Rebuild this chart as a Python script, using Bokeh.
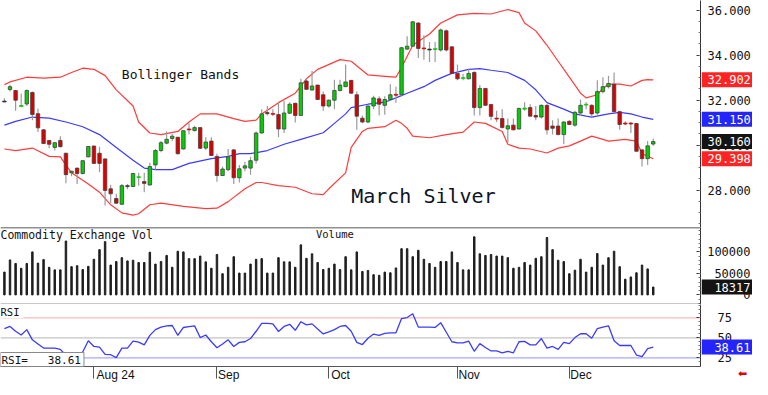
import pandas as pd
from bokeh.plotting import figure
from bokeh.layouts import column, row
from bokeh.models import (Range1d, FixedTicker, Label, Span, ColumnDataSource)
from bokeh.core.properties import value
from bokeh.embed import file_html
from bokeh.resources import INLINE

# ---------------- data ----------------
holidays = ["2024-09-02", "2024-11-28"]
dates = [d for d in pd.bdate_range("2024-07-10", "2024-12-23")
         if d.strftime("%Y-%m-%d") not in holidays]
idx = list(range(len(dates)))

opens = [31.96, 32.47, 32.43, 31.72, 31.83, 32.34, 31.40, 30.68, 30.21, 29.90,
         30.21, 29.64, 28.77, 28.98, 28.74, 29.48, 29.96, 29.64, 29.39, 28.06,
         27.63, 27.37, 28.20, 28.16, 28.56, 28.38, 28.23, 29.12, 29.76, 30.09,
         30.30, 30.35, 29.83, 30.72, 30.65, 30.78, 29.87, 30.18, 29.50, 28.65,
         28.91, 29.79, 28.55, 28.98, 28.98, 29.33, 30.54, 31.45, 31.41, 31.36,
         30.72, 31.42, 31.86, 31.32, 32.85, 32.45, 32.67, 32.24, 31.74, 32.00,
         32.43, 32.60, 32.88, 32.24, 31.20, 31.03, 31.74, 32.06, 31.77, 32.03,
         32.26, 32.24, 34.27, 34.40, 35.43, 34.32, 34.27, 34.25, 34.23, 35.08,
         34.37, 33.19, 32.96, 32.95, 33.23, 31.67, 32.52, 31.81, 31.20, 31.18,
         30.72, 30.89, 30.72, 31.60, 31.67, 31.32, 31.25, 31.77, 30.85, 30.85,
         30.47, 31.06, 30.89, 31.43, 31.80, 31.77, 31.43, 32.38, 32.60, 32.71,
         31.49, 30.98, 30.98, 30.96, 29.79, 29.40, 30.05]
highs = [32.09, 32.68, 32.43, 32.30, 32.47, 32.38, 31.62, 30.72, 30.23, 30.13,
         30.40, 29.66, 28.86, 29.00, 29.33, 29.96, 29.98, 29.93, 29.41, 28.24,
         27.84, 28.27, 28.27, 28.77, 28.77, 28.77, 29.22, 29.83, 30.18, 30.61,
         30.50, 30.37, 30.66, 30.97, 30.86, 30.80, 30.35, 30.35, 29.62, 29.05,
         29.83, 29.83, 29.12, 29.26, 29.48, 30.61, 31.60, 31.74, 31.60, 31.89,
         31.96, 31.91, 31.88, 32.95, 32.95, 33.30, 32.69, 32.38, 32.03, 32.91,
         32.91, 33.59, 32.90, 32.38, 31.32, 31.76, 32.20, 32.17, 32.17, 32.71,
         32.60, 34.37, 34.84, 35.52, 35.45, 34.89, 34.58, 34.58, 35.18, 35.14,
         34.39, 33.59, 33.16, 33.37, 33.28, 32.67, 32.54, 31.83, 31.53, 31.60,
         31.18, 31.18, 31.67, 31.91, 31.82, 31.74, 31.81, 31.82, 31.11, 31.18,
         31.05, 31.11, 31.53, 32.03, 31.91, 31.82, 32.88, 33.02, 33.09, 33.23,
         31.53, 31.06, 31.03, 30.98, 29.83, 30.18, 30.30]
lows = [31.91, 32.38, 31.53, 31.70, 31.74, 31.11, 30.58, 30.05, 29.86, 29.76,
        29.91, 28.31, 28.62, 28.27, 28.70, 29.46, 29.17, 28.80, 27.32, 27.42,
        27.40, 27.35, 28.04, 28.14, 28.20, 27.91, 28.21, 28.91, 29.69, 30.04,
        30.18, 29.59, 29.81, 30.47, 30.61, 29.84, 29.79, 29.52, 28.37, 28.63,
        28.84, 28.27, 28.34, 28.84, 28.69, 29.19, 30.52, 31.32, 31.30, 30.35,
        30.54, 31.39, 31.01, 31.30, 32.45, 32.43, 32.01, 31.53, 31.67, 31.60,
        32.38, 32.58, 32.29, 30.68, 30.97, 30.97, 31.60, 31.32, 31.35, 32.00,
        31.89, 32.17, 34.23, 34.38, 33.87, 33.80, 33.70, 33.70, 34.16, 34.16,
        33.17, 32.88, 32.88, 32.93, 31.32, 31.32, 31.75, 31.11, 31.03, 30.75,
        30.11, 30.66, 30.70, 31.53, 31.27, 31.11, 31.18, 30.47, 30.47, 30.44,
        30.04, 30.89, 30.82, 31.32, 31.60, 31.29, 31.35, 32.31, 32.52, 31.46,
        30.68, 30.89, 30.54, 29.71, 29.05, 29.12, 29.97]
closes = [31.96, 32.60, 32.00, 31.76, 32.43, 31.36, 30.77, 30.07, 30.04, 30.11,
          29.93, 28.69, 28.84, 28.74, 29.31, 29.94, 29.19, 29.19, 27.99, 27.84,
          27.42, 28.20, 28.20, 28.74, 28.60, 28.30, 29.05, 29.76, 30.11, 30.26,
          30.40, 29.62, 30.64, 30.70, 30.78, 29.86, 30.14, 29.54, 28.65, 28.94,
          29.48, 28.55, 28.95, 29.08, 29.31, 30.54, 31.39, 31.40, 31.38, 30.72,
          31.43, 31.82, 31.32, 32.77, 32.48, 32.63, 32.03, 31.74, 32.00, 32.43,
          32.67, 32.81, 32.31, 31.29, 31.03, 31.74, 32.10, 31.82, 32.03, 32.24,
          32.22, 34.33, 34.40, 35.48, 34.30, 34.28, 34.27, 34.29, 35.12, 34.23,
          33.19, 32.95, 33.00, 33.19, 31.67, 32.52, 31.77, 31.28, 31.18, 30.78,
          30.86, 30.68, 31.63, 31.65, 31.29, 31.25, 31.77, 30.68, 30.75, 30.47,
          31.03, 30.92, 31.46, 31.77, 31.82, 31.39, 32.38, 32.60, 32.74, 31.49,
          30.92, 30.96, 30.94, 29.73, 29.40, 29.97, 30.16]

volume = [53070, 81470, 73250, 62030, 73250, 100150, 74000, 82210, 64280, 58300,
          58300, 125560, 65770, 68010, 59050, 66520, 82960, 105380, 124070, 69510,
          77730, 86700, 79220, 80720, 75490, 75490, 99400, 71750, 77730, 91930,
          64280, 101640, 100150, 84450, 84450, 90430, 76980, 62030, 94170, 49330,
          64280, 88940, 50820, 50820, 71750, 82960, 84450, 50820, 50820, 86700,
          76980, 76980, 64280, 116590, 85200, 95670, 75490, 59050, 62030, 71750,
          59050, 88940, 58300, 100150, 54560, 56800, 47090,
          45590, 53070, 51570, 62780, 107630, 107630, 88940, 103890, 82960, 73250,
          64280, 77730, 77730, 100150, 75490, 58300, 58300, 135280, 95670, 91930,
          94170, 90430, 90430, 86700, 62030, 64280, 75490, 69510, 85200, 88940,
          133790, 105380, 80720, 77730, 49330, 57550, 82960, 53070, 64280, 96420,
          69510, 86700, 101640, 65770, 36620, 41850, 51570, 69510, 60540, 18317]

rsi = [61.5, 64.3, 58.3, 53.6, 60.3, 47.6, 42.5, 37.3, 37.3, 37.3,
       35.7, 28.0, 30.0, 27.0, 32.5, 46.4, 39.3, 38.5, 29.4, 29.0,
       25.4, 37.3, 37.3, 46.0, 44.8, 41.3, 53.2, 60.3, 63.5, 65.0,
       65.5, 53.2, 63.0, 64.0, 65.0, 50.4, 53.6, 45.2, 37.7, 42.5,
       47.6, 39.3, 44.4, 45.2, 49.2, 58.3, 68.2, 68.2, 67.5, 58.0,
       64.3, 67.0, 59.5, 70.2, 66.3, 67.5, 61.0, 55.0, 57.5, 60.3,
       64.3, 65.5, 58.3, 44.4, 41.7, 49.6, 54.8, 53.2, 55.6, 56.3,
       56.3, 74.2, 75.4, 80.1, 63.5, 63.5, 63.5, 63.1, 69.0, 57.1,
       45.2, 43.7, 43.7, 46.0, 33.3, 42.9, 38.1, 33.7, 33.7, 31.4,
       33.3, 31.4, 45.2, 45.6, 41.3, 41.3, 49.2, 37.3, 39.3, 35.7,
       44.4, 42.9, 50.4, 55.2, 55.2, 49.6, 61.5, 63.5, 65.1, 46.4,
       40.5, 40.5, 40.5, 28.6, 26.6, 36.5, 38.61]

# Bollinger bands read at sampled bars
upper_idx = [0, 1, 4, 7, 10, 12, 14, 16, 18, 20, 23, 24, 26, 28, 31, 33, 35, 38, 41, 43,
             45, 46, 49, 52, 54, 56, 60, 62, 65, 68, 70, 71, 73, 76, 78, 81, 84, 87, 90, 92,
             93, 95, 97, 99, 101, 103, 104, 106, 107, 108, 110, 112, 114, 115, 116]
upper_val = [32.69, 32.81, 33.02, 32.98, 33.02, 33.23, 33.42, 33.37, 33.09, 32.46,
             31.74, 31.03, 30.54, 30.47, 30.61, 31.03, 31.39, 31.39, 31.18, 31.06,
             31.11, 31.39, 31.89, 32.31, 32.95, 33.37, 33.80, 33.73, 33.12, 33.06,
             33.02, 33.45, 34.44, 34.94, 35.43, 35.79, 35.86, 35.83, 36.03, 35.89,
             35.43, 35.08, 34.44, 33.73, 33.02, 32.31, 32.10, 32.24, 32.52, 32.71,
             32.71, 32.63, 32.88, 32.91, 32.902]
mid_idx = [0, 2, 5, 8, 11, 14, 17, 20, 23, 25, 27, 30, 33, 37, 40, 42, 44, 47, 50, 53,
           57, 59, 61, 62, 65, 68, 70, 72, 75, 77, 79, 80, 83, 85, 87, 90, 93, 95, 97, 100,
           102, 104, 105, 108, 110, 112, 114, 116]
mid_val = [30.89, 31.06, 31.25, 31.20, 31.03, 30.82, 30.47, 29.90, 29.33, 28.98,
           28.91, 28.91, 29.19, 29.40, 29.50, 29.62, 29.62, 29.76, 30.04, 30.26,
           30.55, 30.97, 31.39, 31.67, 31.82, 31.91, 32.10, 32.31, 32.60, 32.88,
           33.09, 33.19, 33.37, 33.40, 33.33, 33.23, 32.88, 32.46, 31.89, 31.60,
           31.39, 31.29, 31.25, 31.39, 31.46, 31.39, 31.25, 31.15]
lower_idx = [0, 2, 5, 8, 10, 12, 15, 17, 19, 21, 23, 24, 26, 28, 32, 36, 38, 40, 43, 45,
             46, 49, 52, 55, 57, 58, 61, 62, 64, 65, 68, 70, 71, 72, 73, 76, 79, 82, 84, 86,
             89, 90, 92, 94, 97, 99, 101, 103, 105, 107, 108, 111, 113, 114, 116]
lower_val = [29.83, 29.76, 29.87, 29.50, 29.48, 28.77, 28.27, 27.91, 27.35, 26.99,
             26.89, 26.95, 27.35, 27.42, 27.28, 27.18, 27.20, 27.49, 28.06, 28.34,
             28.34, 28.20, 28.13, 27.84, 27.80, 28.06, 28.77, 29.90, 30.61, 30.75,
             30.82, 31.11, 30.97, 30.75, 30.40, 30.33, 30.47, 30.58, 31.03, 30.97,
             30.61, 30.04, 29.87, 29.83, 29.65, 29.87, 29.97, 30.18, 30.40, 30.26,
             30.18, 30.26, 30.18, 29.62, 29.398]

price_ticks = [28, 30, 32, 34, 36]
volume_ticks = [0, 50000, 100000]
rsi_ticks = [25, 50, 75]
month_labels = ["Aug 24", "Sep", "Oct", "Nov", "Dec"]
month_ticks = [i for i in range(1, len(dates)) if dates[i].month != dates[i - 1].month]

# ---------------- styling ----------------
MONO = "DejaVu Sans Mono"
SANS = "Liberation Sans"
FW = 700          # main frame width
SW = 51           # right strip width
H_PRICE, H_VOL, H_RSI, H_DATE = 227, 77, 62, 16
GREEN, RED, DOJI = "#00d200", "#dd0000", "#333333"
BAND_RED, BAND_BLUE = "#ff3b3b", "#3b3bff"
BOX_RED, BOX_BLUE, BOX_BLACK = "#ff2424", "#2424ff", "#141414"
AXIS_C = "#333333"
NB = "\u00a0"
x_range = Range1d(-0.7, 124.45)

price_range = Range1d(26.34, 36.43)
vol_range = Range1d(-22400, 157000)
rsi_range = Range1d(14.3, 91.7)


def clean(f):
    f.grid.visible = False
    f.outline_line_color = None
    f.background_fill_color = "white"
    f.border_fill_color = "white"


def main_fig(h, yr, ticks, minor, xaxis=None, bottom=0):
    f = figure(frame_width=FW, frame_height=h, x_range=x_range, y_range=yr,
               output_backend="svg", toolbar_location=None,
               x_axis_location=xaxis, y_axis_location="right",
               min_border_left=0, min_border_right=1,
               min_border_top=0, min_border_bottom=bottom)
    clean(f)
    ax = f.yaxis[0]
    ax.ticker = FixedTicker(ticks=ticks, minor_ticks=minor)
    ax.major_label_overrides = {t: "" for t in ticks}
    ax.major_label_standoff = 0
    ax.axis_line_color = AXIS_C
    ax.axis_line_width = 1
    ax.major_tick_in = 4
    ax.major_tick_out = 0
    ax.minor_tick_in = 2
    ax.minor_tick_out = 0
    ax.major_tick_line_color = AXIS_C
    ax.minor_tick_line_color = "#777777"
    return f


def side_fig(h, yr):
    s = figure(frame_width=SW, frame_height=h, x_range=Range1d(0, SW), y_range=yr,
               output_backend="svg", toolbar_location=None,
               x_axis_location=None, y_axis_location=None,
               min_border_left=0, min_border_right=0,
               min_border_top=0, min_border_bottom=0)
    clean(s)
    return s


def tick_texts(s, ticks, labels, x, align):
    s.text(x=[x] * len(ticks), y=ticks, text=labels, text_font=value(MONO),
           text_font_size="12px", text_color="#111111", text_baseline="middle",
           text_align=align)


def boxes(s, ys, labels, fills, x, align):
    s.rect(x=[SW / 2] * len(ys), y=ys, width=SW, height=15, height_units="screen",
           fill_color=fills, line_color=None)
    s.text(x=[x] * len(ys), y=ys, text=labels, text_font=value(MONO),
           text_font_size="12px", text_color="white", text_baseline="middle",
           text_align=align)


# ---------------- price panel ----------------
p1 = main_fig(H_PRICE, price_range, price_ticks,
              [26.5 + 0.5 * k for k in range(20)])

body_top = [max(o, c) for o, c in zip(opens, closes)]
body_bot = [min(o, c) for o, c in zip(opens, closes)]
body_bot = [b if t - b > 0.04 else t - 0.04 for t, b in zip(body_top, body_bot)]
colors = [GREEN if c > o else (RED if c < o else DOJI) for o, c in zip(opens, closes)]
edges = ["#404040" if abs(c - o) > 0.05 else col
         for o, c, col in zip(opens, closes, colors)]
src = ColumnDataSource(dict(x=idx, top=body_top, bottom=body_bot, high=highs,
                            low=lows, color=colors, edge=edges))

p1.line(upper_idx, upper_val, line_color=BAND_RED, line_width=1.2)
p1.line(lower_idx, lower_val, line_color=BAND_RED, line_width=1.2)
p1.line(mid_idx, mid_val, line_color=BAND_BLUE, line_width=1.2)
p1.segment(x0="x", y0="low", x1="x", y1="high", source=src,
           line_color="#9a9a9a", line_width=1.2)
p1.vbar(x="x", top="top", bottom="bottom", width=0.62, source=src,
        fill_color="color", line_color="edge", line_width=0.8)

p1.add_layout(Label(x=21.0, y=33.15, text="Bollinger Bands", text_font=MONO,
                    text_font_size="13px", text_color="#111111",
                    text_baseline="middle"))
p1.add_layout(Label(x=62.0, y=27.74, text="March Silver", text_font=MONO,
                    text_font_size="20px", text_color="#0a1424",
                    text_baseline="middle"))

s1 = side_fig(H_PRICE, price_range)
tick_texts(s1, price_ticks, [f"{t:.3f}" for t in price_ticks], 6, "left")
last_price = [upper_val[-1], mid_val[-1], lower_val[-1], closes[-1]]
boxes(s1, last_price, [f"{v:.3f}" for v in last_price],
      [BOX_RED, BOX_BLUE, BOX_RED, BOX_BLACK], 6, "left")

# ---------------- volume panel ----------------
p2 = main_fig(H_VOL, vol_range, volume_ticks,
              [-20000 + 10000 * k for k in range(18)])
p2.vbar(x=idx, top=volume, bottom=0, width=0.26, color="#1e1e1e")
p2.add_layout(Span(location=157000, dimension="width", line_color="#222222", line_width=1.5))
p2.add_layout(Span(location=-22400, dimension="width", line_color="#222222", line_width=1.5))
p2.add_layout(Label(x=-0.7, y=155500, text="Commodity Exchange Vol", text_font=MONO,
                    text_font_size="11.5px", text_color="#111111", text_baseline="top"))
p2.add_layout(Label(x=55.7, y=156000, text="Volume", text_font=MONO,
                    text_font_size="10.5px", text_color="#111111", text_baseline="top"))

s2 = side_fig(H_VOL, vol_range)
tick_texts(s2, volume_ticks, [str(t) for t in volume_ticks], SW - 2, "right")
boxes(s2, [volume[-1]], [str(volume[-1])], [BOX_BLACK], SW - 2, "right")

# ---------------- RSI panel ----------------
p3 = main_fig(H_RSI, rsi_range, rsi_ticks, [20 + 5 * k for k in range(15)],
              xaxis="below", bottom=H_DATE)
for lvl, col in zip(rsi_ticks, ["#a8a8ff", "#c4c4c4", "#ffb8b8"]):
    p3.add_layout(Span(location=lvl, dimension="width", line_color=col,
                       line_width=1.3, level="underlay"))
p3.line(idx, rsi, line_color=BAND_BLUE, line_width=1.3)

xa = p3.xaxis[0]
xa.ticker = FixedTicker(ticks=month_ticks, minor_ticks=[])
xa.major_label_overrides = {t: NB * (2 * len(lab) + 1) + lab
                            for t, lab in zip(month_ticks, month_labels)}
xa.major_tick_out = 12
xa.major_tick_in = 0
xa.major_tick_line_color = "#555555"
xa.major_label_standoff = -11
xa.major_label_text_font = SANS
xa.major_label_text_font_size = "12px"
xa.major_label_text_color = "#111111"
xa.axis_line_color = "#555555"
xa.axis_line_width = 1.2

p3.add_layout(Label(x=-0.7, y=89.5, text="RSI", text_font=MONO, text_font_size="10.5px",
                    text_color="#111111", text_baseline="top",
                    background_fill_color="white",
                    padding=dict(left=0, right=4, top=0, bottom=0)))
p3.add_layout(Label(x=-0.7, y=14.3, text="RSI=" + NB * 3 + f"{rsi[-1]:.2f}",
                    text_font=MONO, text_font_size="11px", text_color="#111111",
                    text_baseline="bottom", background_fill_color="white",
                    border_line_color="#8a8a8a", border_line_width=1,
                    padding=dict(left=1, right=3, top=1, bottom=0)))

per_px = (rsi_range.end - rsi_range.start) / H_RSI
rsi_side_range = Range1d(rsi_range.start - H_DATE * per_px, rsi_range.end)
s3 = side_fig(H_RSI + H_DATE, rsi_side_range)
tick_texts(s3, rsi_ticks, [str(t) for t in rsi_ticks], 16, "left")
boxes(s3, [rsi[-1]], [f"{rsi[-1]:.2f}"], [BOX_BLUE], SW - 2, "right")
s3.text(x=[41], y=[rsi_range.start - 7 * per_px], text=["\u2b05"],
        text_font=value("DejaVu Sans"), text_font_size="11px", text_color="#e00000",
        text_baseline="middle", text_align="center")

layout = column(row(p1, s1, spacing=0), row(p2, s2, spacing=0),
                row(p3, s3, spacing=0), spacing=0)
open("out.html", "w").write(file_html(layout, INLINE))
